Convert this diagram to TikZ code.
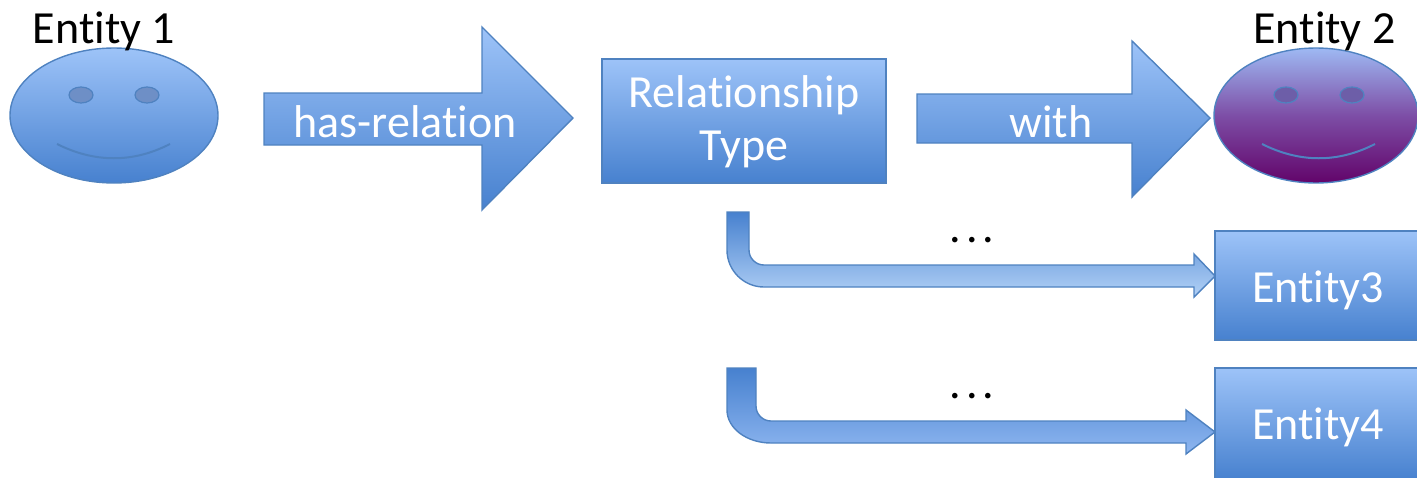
\documentclass[tikz,border=0pt]{standalone}
\usepackage{fontspec}
\setmainfont{Carlito}[Ligatures=NoCommon, RawFeature=-liga]
\definecolor{bluetop}{HTML}{9DC3F8}
\definecolor{bluebot}{HTML}{4781CF}
\definecolor{edge}{HTML}{4F82C0}
\definecolor{purtop}{HTML}{9EB9F3}
\definecolor{purmid}{HTML}{7D4EA6}
\definecolor{purbot}{HTML}{62046A}
\definecolor{eyeblue}{HTML}{6E8FC6}
\definecolor{eyepur}{HTML}{6D5EA8}
\definecolor{bentlight}{HTML}{B2D1F6}
\definecolor{bentmid}{HTML}{8EB6F0}
\newcommand{\mydots}{.\kern5pt.\kern5pt.}
\tikzset{
  blueshape/.style={draw=edge, line width=1.4pt, top color=bluetop, bottom color=bluebot},
  face2/.style={draw=edge, line width=1.4pt, top color=purtop, bottom color=purbot, middle color=purmid},
  eye/.style={draw=edge, line width=1.2pt},
  smile/.style={draw=edge, line width=2pt},
  bigtxt/.style={font=\fontsize{46pt}{53pt}\selectfont, inner sep=0pt, anchor=base},
  wtxt/.style={bigtxt, text=white},
}
\begin{document}
\begin{tikzpicture}[x=1pt, y=-1pt]
\useasboundingbox (0,0) rectangle (1417,477);

% Entity 1 face
\path[blueshape] (114,115.5) ellipse [x radius=104pt, y radius=67.5pt];
\path[eye, fill=eyeblue] (81,95) ellipse [x radius=12pt, y radius=8pt];
\path[eye, fill=eyeblue] (147,95) ellipse [x radius=12pt, y radius=8pt];
\draw[smile] (57,144) .. controls (95,163) and (133,163) .. (170,144);
\node[bigtxt] (e1) at (104,43) {Entity 1};

% has-relation arrow
\path[blueshape] (264,93) -- (482,93) -- (482,27) -- (573,118) -- (482,210) -- (482,145) -- (264,145) -- cycle;
\node[wtxt] (hr) at (405,137) {has-relation};

% Relationship Type box
\path[blueshape] (602,59) rectangle (886,183);
\node[wtxt] (rt1) at (744,107) {Relationship};
\node[wtxt] (rt2) at (744,160) {Type};

% with arrow
\path[blueshape] (917,94) -- (1132,94) -- (1132,41) -- (1210,118) -- (1132,197) -- (1132,143) -- (917,143) -- cycle;
\node[wtxt] (w) at (1051,137) {with};

% Entity 2 face
\path[face2] (1316,115.5) ellipse [x radius=102pt, y radius=67.5pt];
\path[eye, fill=eyepur] (1286,95) ellipse [x radius=12pt, y radius=8pt];
\path[eye, fill=eyepur] (1352,95) ellipse [x radius=12pt, y radius=8pt];
\draw[smile] (1262,144) .. controls (1300,163) and (1338,163) .. (1375,144);
\node[bigtxt] (e2) at (1324.5,43) {Entity 2};

% bent arrow to Entity3
\path[draw=edge, line width=1.4pt, top color=bluebot, bottom color=bentlight]
  (727,212) -- (749,212) -- (749,250) .. controls (749,258.3) and (755.7,265) .. (764,265)
  -- (1194,265) -- (1194,254) -- (1215,276) -- (1194,297) -- (1194,287) -- (764,287)
  .. controls (743.6,287) and (727,270.4) .. (727,250) -- cycle;
\node[bigtxt] (d1) at (972,242) {\mydots};

% Entity3 box
\path[blueshape] (1215,231) rectangle (1422,340);
\node[wtxt] (e3) at (1318,302) {Entity3};

% bent arrow to Entity4
\path[draw=edge, line width=1.4pt, top color=bluebot, bottom color=bentmid]
  (727,368) -- (756,368) -- (756,406) .. controls (756,414.3) and (762.7,421) .. (771,421)
  -- (1186,421) -- (1186,410) -- (1215,432) -- (1186,454) -- (1186,443) -- (771,443)
  .. controls (746.7,443) and (727,428.2) .. (727,410) -- cycle;
\node[bigtxt] (d2) at (972,398) {\mydots};

% Entity4 box
\path[blueshape] (1215,368) rectangle (1422,480);
\node[wtxt] (e4) at (1318,439) {Entity4};
\end{tikzpicture}
\end{document}
